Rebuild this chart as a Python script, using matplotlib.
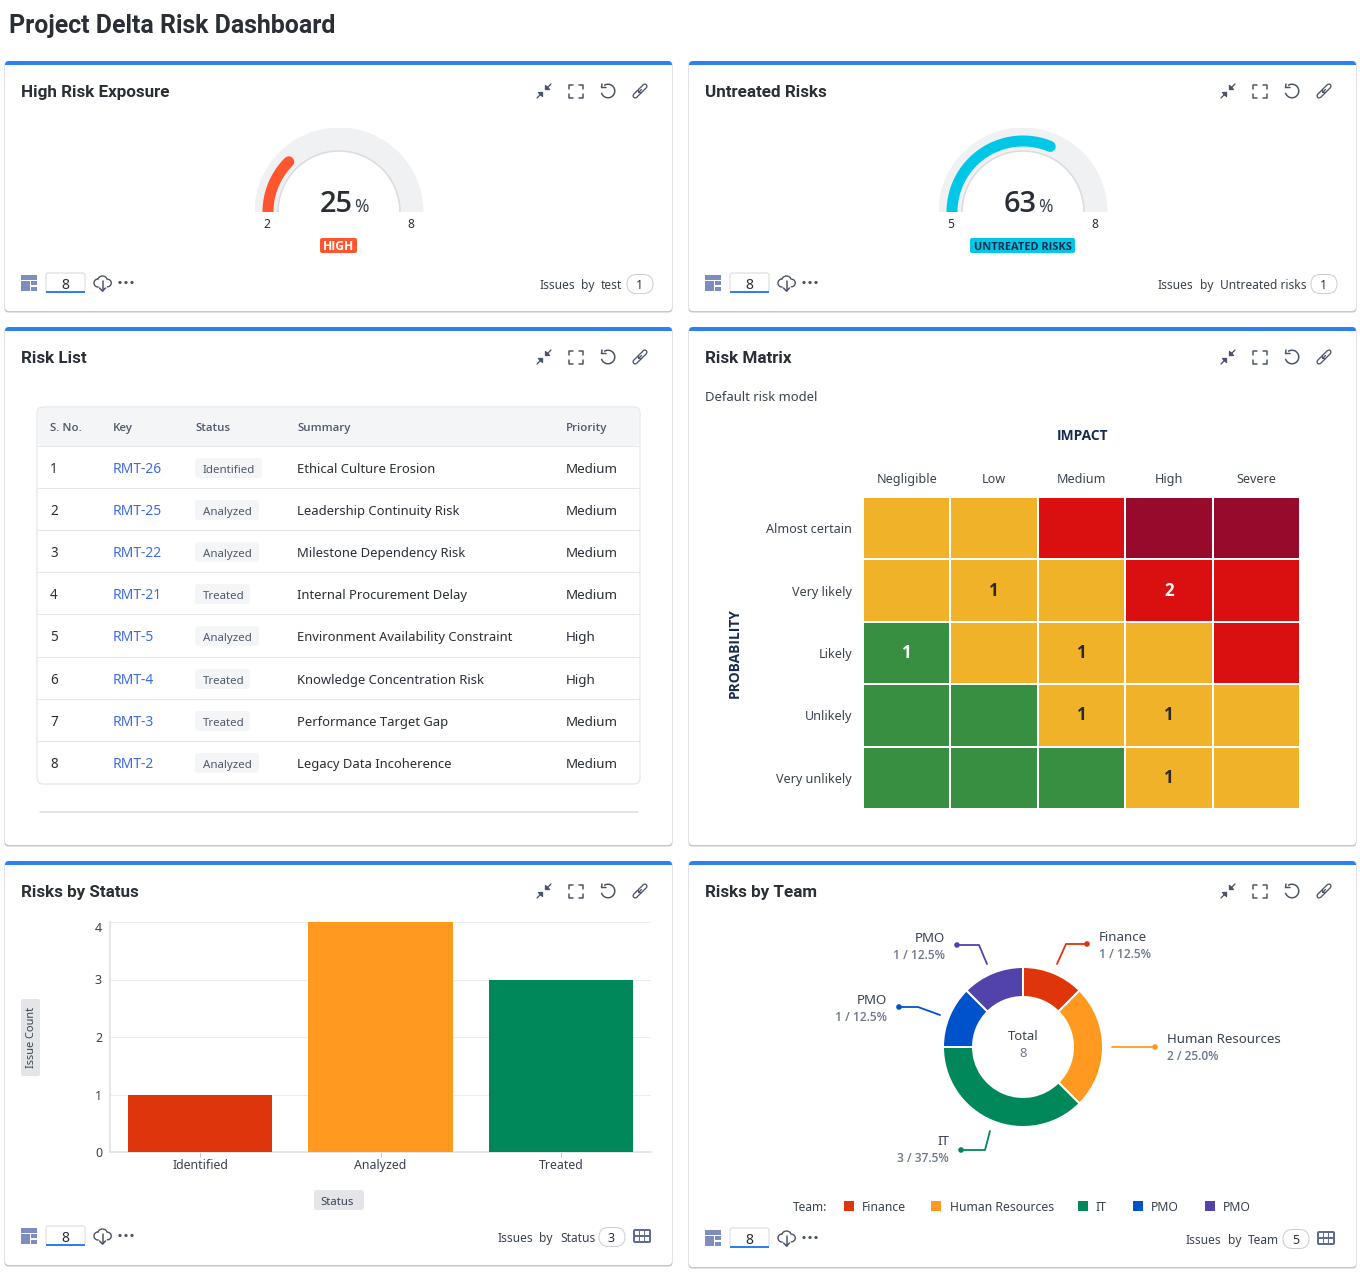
import numpy as np
import matplotlib
matplotlib.use("Agg")
import matplotlib.pyplot as plt
from matplotlib.colors import ListedColormap
from matplotlib.patches import FancyBboxPatch, Rectangle, Wedge, Arc, Circle

plt.rcParams['font.family'] = ['Noto Sans', 'DejaVu Sans']

W, H = 1360, 1278

# === dati ===
gauge_values = [2, 5]
gauge_totals = [8, 8]
gauge_labels = ["25", "63"]

table_headers = ["S. No.", "Key", "Status", "Summary", "Priority"]
table_no = [1, 2, 3, 4, 5, 6, 7, 8]
table_keys = ["RMT-26", "RMT-25", "RMT-22", "RMT-21", "RMT-5", "RMT-4", "RMT-3", "RMT-2"]
table_status = ["Identified", "Analyzed", "Analyzed", "Treated", "Analyzed", "Treated", "Treated", "Analyzed"]
table_summary = ["Ethical Culture Erosion", "Leadership Continuity Risk", "Milestone Dependency Risk",
                 "Internal Procurement Delay", "Environment Availability Constraint",
                 "Knowledge Concentration Risk", "Performance Target Gap", "Legacy Data Incoherence"]
table_priority = ["Medium", "Medium", "Medium", "Medium", "High", "High", "Medium", "Medium"]

impact = ["Negligible", "Low", "Medium", "High", "Severe"]
probability = ["Almost certain", "Very likely", "Likely", "Unlikely", "Very unlikely"]
# 0 verde, 1 giallo, 2 rosso, 3 rosso scuro
risk_levels = [[1, 1, 2, 3, 3],
               [1, 1, 1, 2, 2],
               [0, 1, 1, 1, 2],
               [0, 0, 1, 1, 1],
               [0, 0, 0, 1, 1]]
risk_counts = [[0, 0, 0, 0, 0],
               [0, 1, 0, 2, 0],
               [1, 0, 1, 0, 0],
               [0, 0, 1, 1, 0],
               [0, 0, 0, 1, 0]]
risk_colors = ["#388F41", "#F0B229", "#DA1010", "#970A2B"]

status_names = ["Identified", "Analyzed", "Treated"]
status_counts = [1, 4, 3]
status_colors = ["#DE350B", "#FF991F", "#00875A"]

team_names = ["Finance", "Human Resources", "IT", "PMO", "PMO"]
team_counts = [1, 2, 3, 1, 1]
team_pct = ["12.5%", "25.0%", "37.5%", "12.5%", "12.5%"]
team_colors = ["#DE350B", "#FF991F", "#00875A", "#0052CC", "#5243AA"]

DARK = "#292E37"
GREY = "#6B778C"
NAVY = "#172B4D"
BLUE = "#2E7FF0"
ICON = "#4A5468"
SLATE = "#7C8DBE"
BOLD = "Open Sans"


def px(n):
    return n * 72 / 100


fig = plt.figure(figsize=(W / 100, H / 100), dpi=100, facecolor="white")
bg = fig.add_axes([0, 0, 1, 1])
bg.set_xlim(0, W)
bg.set_ylim(H, 0)
bg.axis("off")


def sub_axes(x0, y0, x1, y1):
    return fig.add_axes([x0 / W, 1 - y1 / H, (x1 - x0) / W, (y1 - y0) / H])


def txt(x, y, s, size=14, color=DARK, ha="left", **kw):
    # y = centro delle maiuscole, allineo sulla baseline cosi' i discendenti non spostano il testo
    if "rotation" in kw:
        return bg.text(x, y, s, fontsize=px(size), color=color, ha=ha, va="center", **kw)
    return bg.text(x, y + 0.36 * size, s, fontsize=px(size), color=color, ha=ha, va="baseline", **kw)


def line(xs, ys, color=ICON, lw=1.6, **kw):
    kw.setdefault("solid_capstyle", "round")
    bg.plot(xs, ys, color=color, lw=px(lw), **kw)


def round_box(x0, y0, x1, y1, r=3, fc="white", ec="none", lw=1, z=2):
    p = FancyBboxPatch((x0 + r, y0 + r), x1 - x0 - 2 * r, y1 - y0 - 2 * r,
                       boxstyle=f"round,pad={r},rounding_size={r}",
                       fc=fc, ec=ec, lw=px(lw), zorder=z)
    bg.add_patch(p)
    return p


def top_icons(xo, y):
    # compress
    cx = xo + 544
    line([cx - 7, cx - 1.5, cx - 1.5, cx - 5.5, cx - 1.5], [y + 7, y + 1.5, y + 5.5, y + 1.5, y + 1.5], lw=1.3)
    line([cx + 7, cx + 1.5, cx + 1.5, cx + 5.5, cx + 1.5], [y - 7, y - 1.5, y - 5.5, y - 1.5, y - 1.5], lw=1.3)
    # fullscreen
    cx = xo + 576
    for sx in (-1, 1):
        for sy in (-1, 1):
            line([cx + sx * 3, cx + sx * 7, cx + sx * 7], [y + sy * 6.5, y + sy * 6.5, y + sy * 2.5], lw=1.5)
    # undo
    cx = xo + 608
    bg.add_patch(Arc((cx, y), 13.5, 13.5, theta1=-125, theta2=165, ec=ICON, lw=px(1.5), zorder=3))
    line([cx - 6, cx - 6.5, cx - 2], [y - 7, y - 3.5, y - 3.5], lw=1.5)
    # link
    cx = xo + 640
    for d in (-2.6, 2.6):
        xs = [cx + d - 2.2, cx + d + 2.2]
        ys = [y - d + 2.2, y - d - 2.2]
        line(xs, ys, color=ICON, lw=5.6, zorder=3)
        line(xs, ys, color="white", lw=3, zorder=3)
    line([cx - 1.5, cx + 1.5], [y + 1.5, y - 1.5], lw=1.3, zorder=4)


def footer_left(xo, y):
    x = xo + 21
    bg.add_patch(Rectangle((x, y - 8), 16, 5, fc=SLATE, zorder=3))
    bg.add_patch(Rectangle((x, y - 2), 9, 10, fc=SLATE, zorder=3))
    bg.add_patch(Rectangle((x + 10, y - 2), 6, 4, fc=SLATE, zorder=3))
    bg.add_patch(Rectangle((x + 10, y + 4), 6, 4, fc=SLATE, zorder=3))
    # campo numero
    round_box(xo + 46, y - 10, xo + 85, y + 9, r=2, fc="white", ec="#D5D8DE", z=2)
    bg.add_patch(Rectangle((xo + 46, y + 8), 39, 1.8, fc=BLUE, zorder=3))
    txt(xo + 65, y + 1, "8", size=14, ha="center", zorder=4)
    # nuvola
    cx = xo + 102.5
    bg.add_patch(Arc((cx - 4.5, y + 0), 8, 8, theta1=80, theta2=270, ec=ICON, lw=px(1.4), zorder=3))
    bg.add_patch(Arc((cx + 0, y - 2), 10, 10, theta1=195, theta2=345, ec=ICON, lw=px(1.4), zorder=3))
    bg.add_patch(Arc((cx + 5, y + 0), 7.5, 7.5, theta1=270, theta2=100, ec=ICON, lw=px(1.4), zorder=3))
    line([cx, cx], [y - 2, y + 8], lw=1.5)
    line([cx - 3, cx, cx + 3], [y + 5, y + 8, y + 5], lw=1.5)
    # puntini
    for dx in (120, 126, 132):
        bg.add_patch(Circle((xo + dx, y - 0.5), 1.6, fc=ICON, zorder=3))


def footer_right(x_end, y, parts, count, table_icon=False):
    # parts scritti da destra verso sinistra a partire dal badge
    round_box(x_end - 26, y - 9.5, x_end, y + 9.5, r=9.5, fc="white", ec="#C9CDD4", z=2)
    txt(x_end - 13.5, y + 0.5, str(count), size=12.5, ha="center", zorder=4)
    for x, s in parts:
        txt(x, y + 1, s, size=12, color="#3A4250", ha="left", zorder=4)
    if table_icon:
        x = x_end + 8
        round_box(x, y - 8, x + 18, y + 6, r=2, fc="#5E6C94", z=3)
        for i in range(3):
            for j in range(2):
                bg.add_patch(Rectangle((x + 2 + i * 5, y - 6 + j * 5.5), 3.8, 4.2, fc="white", zorder=4))


def card(x0, y0, x1, y1, title):
    # ombra leggera
    round_box(x0 - 0.5, y0, x1 + 0.5, y1 + 1.5, r=4, fc="#C4C7CC", z=1)
    p = round_box(x0, y0, x1, y1, r=4, fc="white", z=1.1)
    top = Rectangle((x0, y0), x1 - x0, 4, fc=BLUE, zorder=1.2)
    bg.add_patch(top)
    top.set_clip_path(p)
    txt(x0 + 16, y0 + 30, title, size=17, family="Roboto", weight="bold")
    top_icons(x0 - 5, y0 + 30)


def gauge(cx, cy, value, total, color, pct, lab_left, lab_right):
    R = 84.5
    ax = sub_axes(cx - R, cy - R, cx + R, cy)
    ax.set_xlim(-R, R)
    ax.set_ylim(0, R)
    ax.axis("off")
    ax.add_patch(Wedge((0, 0), R, 0, 180, width=R - 61, fc="#F0F1F3", ec="none"))
    ax.add_patch(Arc((0, 0), 122, 122, theta1=0, theta2=180, ec="#DADCE0", lw=px(1.6)))
    end = np.pi * (1 - value / total)
    th = np.linspace(np.pi + 0.1, end, 120)
    ax.plot(71 * np.cos(th), 71 * np.sin(th), color=color, lw=px(11), solid_capstyle="round")
    txt(cx - 3, cy - 10.5, pct, size=29, ha="center", color=DARK, family=BOLD, weight=600)
    txt(cx + 22, cy - 6.5, "%", size=17.5, ha="center", color="#3A4250")
    txt(cx - 72.5, cy + 12, lab_left, size=12, ha="center")
    txt(cx + 72, cy + 12, lab_right, size=12, ha="center")


# === titolo ===
txt(9, 24, "Project Delta Risk Dashboard", size=24.9, family="Roboto", weight="bold")

card(5, 61, 672, 311, "High Risk Exposure")
card(689, 61, 1356, 311, "Untreated Risks")
card(5, 327, 672, 845, "Risk List")
card(689, 327, 1356, 845, "Risk Matrix")
card(5, 861, 672, 1265, "Risks by Status")
card(689, 861, 1356, 1267, "Risks by Team")

# === gauge ===
gauge(339, 212, gauge_values[0], gauge_totals[0], "#FF5630", gauge_labels[0], str(gauge_values[0]), str(gauge_totals[0]))
gauge(1023, 212, gauge_values[1], gauge_totals[1], "#00C7E6", gauge_labels[1], str(gauge_values[1]), str(gauge_totals[1]))
round_box(320, 238, 357, 253, r=2, fc="#FF5630")
txt(338.5, 246, "HIGH", size=12, color="white", ha="center", family=BOLD, weight="bold", zorder=4)
round_box(970, 238, 1075, 253, r=2, fc="#00C7E6")
txt(1022.5, 246, "UNTREATED RISKS", size=11, color=NAVY, ha="center", family=BOLD, weight="bold", zorder=4)

footer_left(0, 283)
footer_left(684, 283)
footer_right(653, 284, [(539, "Issues"), (581, "by"), (601, "test")], 1)
footer_right(1337, 284, [(1158, "Issues"), (1200, "by"), (1220, "Untreated risks")], 1)
footer_left(0, 1236)
footer_left(684, 1238)
footer_right(625, 1237, [(498, "Issues"), (539, "by"), (560, "Status")], 3, table_icon=True)
footer_right(1309, 1239, [(1186, "Issues"), (1228, "by"), (1248, "Team")], 5, table_icon=True)

# === tabella ===
col_x = [50, 113, 195, 297, 566]
row_y = [468, 510, 552, 594, 636, 679, 721, 763]
row_lines = [488, 530, 572, 614, 657, 699, 741]
badge_w = {"Identified": 67, "Analyzed": 64, "Treated": 55}
round_box(37, 407, 640, 784, r=6, fc="white", ec="#DFE1E6", z=2)
hd = round_box(38, 408, 639, 446, r=5, fc="#F4F5F7", z=2.1)
line([38, 639], [446, 446], color="#E4E6EA", lw=1, zorder=3)
for x, s in zip(col_x, table_headers):
    txt(x, 427, s, size=11.5, color="#50596A", family=BOLD, weight=600, zorder=4)
for y in row_lines:
    line([38, 639], [y, y], color="#E4E6EA", lw=1, zorder=3)
for i, y in enumerate(row_y):
    txt(col_x[0], y, str(table_no[i]), size=13.5, zorder=4)
    txt(col_x[1], y, table_keys[i], size=13.9, color="#3D6BE8", zorder=4)
    round_box(195, y - 10, 195 + badge_w[table_status[i]], y + 10, r=3, fc="#F4F5F7", z=3)
    txt(203, y + 1, table_status[i], size=11.5, color="#50596A", zorder=4)
    txt(col_x[3], y, table_summary[i], size=13, zorder=4)
    txt(col_x[4], y, table_priority[i], size=13.4, zorder=4)
line([40, 638], [812, 812], color="#DADCE0", lw=1.5)

# === matrice ===
txt(705, 396, "Default risk model", size=13, color="#3A4250")
txt(1082, 435, "IMPACT", size=13.7, color=NAVY, ha="center", family=BOLD, weight="bold")
txt(735, 653, "PROBABILITY", size=13.7, color=NAVY, ha="center", family=BOLD, weight="bold", rotation=90)
ax_m = sub_axes(863, 497, 1300, 809)
levels = np.array(risk_levels)
ax_m.imshow(levels, cmap=ListedColormap(risk_colors), vmin=0, vmax=3, aspect="auto", interpolation="nearest")
ax_m.set_xticks(range(len(impact)), impact)
ax_m.set_yticks(range(len(probability)), probability)
ax_m.xaxis.tick_top()
ax_m.tick_params(length=0, labelsize=px(12.6), labelcolor="#3A4250", pad=px(11))
ax_m.tick_params(axis="y", pad=px(11))
ax_m.set_xticks(np.arange(-0.5, len(impact)), minor=True)
ax_m.set_yticks(np.arange(-0.5, len(probability)), minor=True)
ax_m.grid(which="minor", color="white", lw=px(2))
ax_m.tick_params(which="minor", length=0)
for s in ax_m.spines.values():
    s.set_visible(False)
for r, row in enumerate(risk_counts):
    for c, v in enumerate(row):
        if v:
            col = "white" if risk_levels[r][c] in (0, 2, 3) else "#2B2B2B"
            ax_m.text(c, r, str(v), ha="center", va="center", color=col, fontsize=px(17),
                      family=BOLD, weight="bold")

# === barre ===
ax_b = sub_axes(110, 922, 651, 1152)
ax_b.bar(status_names, status_counts, width=0.8, color=status_colors, zorder=3)
ax_b.set_xlim(-0.5, 2.5)
ax_b.set_ylim(0, 4)
ax_b.set_yticks([0, 1, 2, 3, 4])
ax_b.grid(axis="y", color="#EBECF0", lw=px(1), zorder=0)
for s in ("top", "right"):
    ax_b.spines[s].set_visible(False)
for s in ("left", "bottom"):
    ax_b.spines[s].set_color("#DFE1E6")
    ax_b.spines[s].set_linewidth(px(1.6))
ax_b.tick_params(axis="y", length=0, labelsize=px(12.5), labelcolor="#3A4250", pad=px(8))
ax_b.tick_params(axis="x", length=px(5), color="#C4C9D2", width=px(1), labelsize=px(12.4),
                 labelcolor="#3A4250", pad=px(2))
ax_b.get_yticklabels()[-1].set_va("top")
round_box(21, 999, 40, 1076, r=2, fc="#E4E5E9")
txt(31.5, 1037.5, "Issue Count", size=11, color="#3A4250", ha="center", rotation=90, zorder=4)
round_box(314, 1190, 364, 1210, r=3, fc="#E4E5E9")
txt(337, 1200.5, "Status", size=11.3, color="#3A4250", ha="center", zorder=4)

# === ciambella ===
ax_d = sub_axes(943, 967, 1103, 1127)
ax_d.pie(team_counts, colors=team_colors, startangle=90, counterclock=False, radius=1,
         wedgeprops=dict(width=0.375, edgecolor="white", linewidth=px(2)))
ax_d.set_xlim(-1.0, 1.0)
ax_d.set_ylim(-1.0, 1.0)
txt(1023, 1035, "Total", size=13, color="#3A4250", ha="center")
txt(1023, 1052, str(sum(team_counts)), size=13, color=GREY, ha="center")

leaders = [([1057, 1066, 1087], [964, 944, 944]),
           ([1112, 1155], [1047, 1047]),
           ([990, 985, 961], [1131, 1150, 1150]),
           ([940, 918, 899], [1015, 1007, 1007]),
           ([987, 979, 957], [964, 945, 945])]
lab_pos = [(1099, 936, "left"), (1167, 1038, "left"), (949, 1140, "right"), (887, 999, "right"), (945, 937, "right")]
for i, (xs, ys) in enumerate(leaders):
    line(xs, ys, color=team_colors[i], lw=1.8)
    bg.add_patch(Circle((xs[-1], ys[-1]), 2.8, fc=team_colors[i], zorder=3))
    x, y, ha = lab_pos[i]
    txt(x, y, team_names[i], size=13.3, color="#3A4250", ha=ha)
    txt(x, y + 18, f"{team_counts[i]} / {team_pct[i]}", size=12, color=GREY, ha=ha, family=BOLD, weight=600)

txt(793, 1206.5, "Team:", size=12, color="#3A4250")
leg_sq = [844, 931, 1078, 1133, 1205]
leg_tx = [862, 950, 1096, 1151, 1223]
for i in range(len(team_names)):
    bg.add_patch(Rectangle((leg_sq[i], 1201), 10, 10, fc=team_colors[i], zorder=3))
    txt(leg_tx[i], 1206.5, team_names[i], size=12.2, color="#3A4250")

fig.savefig("out.png", dpi=100, facecolor="white")
